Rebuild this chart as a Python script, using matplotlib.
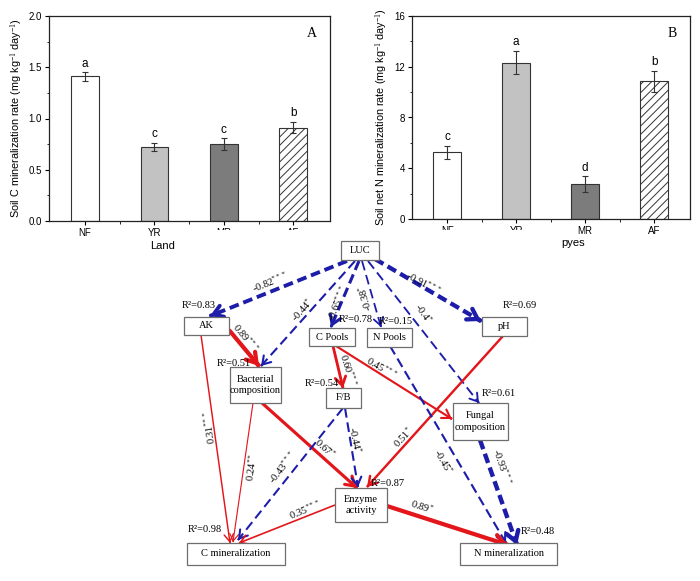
import matplotlib
matplotlib.use("Agg")
import matplotlib.pyplot as plt
from matplotlib.patches import Rectangle
from matplotlib.ticker import MultipleLocator, FormatStrFormatter
import numpy as np

# ---------------- data ----------------
land = ['NF', 'YR', 'MR', 'AF']
c_rate = [1.41, 0.72, 0.75, 0.91]
c_err = [0.04, 0.04, 0.055, 0.055]
c_letters = ['a', 'c', 'c', 'b']
n_rate = [5.26, 12.32, 2.76, 10.84]
n_err = [0.5, 0.92, 0.6, 0.86]
n_letters = ['c', 'a', 'd', 'b']

node_names = ['LUC', 'AK', 'C Pools', 'N Pools', 'pH', 'Bacterial\ncomposition', 'F/B',
              'Fungal\ncomposition', 'Enzyme\nactivity', 'C mineralization', 'N mineralization']
node_r2 = [None, 0.83, 0.78, 0.15, 0.69, 0.51, 0.54, 0.61, 0.87, 0.98, 0.48]

edge_from = ['LUC', 'LUC', 'LUC', 'LUC', 'LUC', 'LUC', 'AK', 'AK',
             'Bacterial\ncomposition', 'Bacterial\ncomposition', 'C Pools', 'C Pools', 'pH',
             'F/B', 'F/B', 'N Pools', 'Fungal\ncomposition', 'Enzyme\nactivity', 'Enzyme\nactivity']
edge_to = ['AK', 'Bacterial\ncomposition', 'C Pools', 'N Pools', 'pH', 'Fungal\ncomposition',
           'Bacterial\ncomposition', 'C mineralization', 'C mineralization', 'Enzyme\nactivity',
           'F/B', 'Fungal\ncomposition', 'Enzyme\nactivity', 'Enzyme\nactivity', 'C mineralization',
           'N mineralization', 'N mineralization', 'C mineralization', 'N mineralization']
edge_coef = [-0.82, -0.44, -0.65, -0.38, -0.91, -0.4, 0.89, 0.31, 0.24, 0.67, 0.60, 0.45,
             0.51, -0.44, -0.43, -0.45, -0.93, 0.35, 0.89]
edge_sig = ['***', '*', '***', '*', '***', '*', '***', '***', '**', '*', '***', '***',
            '*', '*', '***', '*', '***', '***', '*']

# ---------------- layout (pixel coordinates of the diagram) ----------------
node_box = {  # center x, center y, width, height
    'LUC': (360, 250.5, 38, 19),
    'AK': (206.5, 326, 45, 18),
    'C Pools': (332, 337, 46, 18),
    'N Pools': (389, 337, 45, 19),
    'pH': (504.5, 326.5, 45, 19),
    'Bacterial\ncomposition': (255.5, 385, 51, 36),
    'F/B': (343.5, 398, 35, 20),
    'Fungal\ncomposition': (480.5, 421.5, 55, 37),
    'Enzyme\nactivity': (361, 505, 52, 34),
    'C mineralization': (236, 554, 98, 22),
    'N mineralization': (508.5, 554, 97, 22),
}
r2_pos = {
    'AK': (182, 306), 'C Pools': (339, 319), 'N Pools': (379, 322), 'pH': (503, 305),
    'Bacterial\ncomposition': (217, 363), 'F/B': (305, 383), 'Fungal\ncomposition': (482, 393),
    'Enzyme\nactivity': (371, 483), 'C mineralization': (188, 530), 'N mineralization': (521, 531),
}
edge_geom = [  # start, end, label position, label rotation
    ((347, 261), (210, 316), (270, 282), 22),
    ((355, 261), (261, 366), (302, 310), 48),
    ((359, 261), (331, 327), (338, 303), 67),
    ((362, 261), (381, 327), (365, 298), 106),
    ((375, 259), (481, 321), (423, 283), -28),
    ((368, 261), (479, 403), (423, 313), -55),
    ((229, 330), (259, 366), (246, 338), -50),
    ((201, 335), (230, 543), (209, 427), 98),
    ((253, 403), (233, 542), (252, 467), 82),
    ((262, 403), (357, 488), (325, 448), -42),
    ((333, 346), (343, 388), (348, 370), -72),
    ((336, 346), (452, 419), (382, 368), -30),
    ((503, 336), (367, 487), (403, 437), 47),
    ((345, 408), (358, 487), (355, 440), -78),
    ((343, 408), (238, 540), (283, 467), 52),
    ((390, 346), (506, 543), (443, 462), -60),
    ((480, 440), (517, 545), (502, 467), -71),
    ((335, 505), (239, 543), (305, 510), 22),
    ((387, 506), (508, 545), (422, 507), -18),
]

RED = '#e3161b'
BLUE = '#1d1daa'
SANS = ['Liberation Sans', 'DejaVu Sans']
SERIF = ['Liberation Serif', 'DejaVu Serif']

plt.rcParams['font.family'] = SANS
plt.rcParams['mathtext.fontset'] = 'custom'
plt.rcParams['mathtext.rm'] = 'Liberation Serif'
plt.rcParams['mathtext.it'] = 'Liberation Serif:italic'
plt.rcParams['lines.scale_dashes'] = False
plt.rcParams['hatch.color'] = '#6a6a6a'
plt.rcParams['hatch.linewidth'] = 0.7

fig = plt.figure(figsize=(7, 5.81), dpi=100)
W, H = 700, 581

faces = ['white', '#c2c2c2', '#7c7c7c', 'white']
hatches = [None, None, None, '////']


def bar_panel(ax, vals, errs, letters, ylim, step, minor, ylabel, tag, xlim):
    x = np.arange(len(land))
    for i in range(len(land)):
        ax.bar(x[i], vals[i], width=0.4, color=faces[i], edgecolor='#333333',
               linewidth=0.8, hatch=hatches[i], zorder=2)
    ax.errorbar(x, vals, yerr=errs, fmt='none', ecolor='#333333', elinewidth=0.8,
                capsize=2.5, capthick=0.8, zorder=3)
    for i in range(len(land)):
        ax.annotate(letters[i], (x[i], vals[i] + errs[i]), xytext=(0, 2),
                    textcoords='offset points', ha='center', va='bottom', fontsize=8.5)
    ax.set_xlim(*xlim)
    ax.set_ylim(*ylim)
    ax.set_xticks(x)
    ax.set_xticklabels(land, fontsize=7)
    ax.set_xticks([0.5, 1.5, 2.5], minor=True)
    ax.yaxis.set_major_locator(MultipleLocator(step))
    ax.yaxis.set_minor_locator(MultipleLocator(minor))
    ax.tick_params(axis='both', which='major', direction='out', length=3, width=0.8,
                   labelsize=7, pad=2)
    ax.tick_params(axis='both', which='minor', direction='out', length=1.8, width=0.6)
    ax.set_ylabel(ylabel, fontsize=7.8, labelpad=3)
    for s in ax.spines.values():
        s.set_linewidth(0.9)
        s.set_color('#222222')
    ax.text(0.935, 0.915, tag, transform=ax.transAxes, family=SERIF, fontsize=10,
            ha='center', va='center')


ax1 = fig.add_axes([49 / W, 1 - 221 / H, 281 / W, 205 / H])
bar_panel(ax1, c_rate, c_err, c_letters, (0, 2.0), 0.5, 0.25,
          'Soil C mineralization rate (mg kg$^{-1}$ day$^{-1}$)', 'A', (-0.52, 3.53))
ax1.yaxis.set_major_formatter(FormatStrFormatter('%.1f'))

ax2 = fig.add_axes([412 / W, 1 - 219 / H, 278 / W, 203 / H])
bar_panel(ax2, n_rate, n_err, n_letters, (0, 16), 4, 2,
          'Soil net N mineralization rate (mg kg$^{-1}$ day$^{-1}$)', 'B', (-0.51, 3.52))

fig.text(163 / W, 1 - 246 / H, 'Land', ha='center', va='center', fontsize=8)
fig.text(573 / W, 1 - 243 / H, 'pyes', ha='center', va='center', fontsize=8)

# ---------------- path diagram ----------------
ax3 = fig.add_axes([0, 0, 1, 1])
ax3.set_zorder(10)
ax3.set_xlim(0, W)
ax3.set_ylim(H, 0)
ax3.axis('off')
ax3.patch.set_visible(False)
ax3.add_patch(Rectangle((205, 229.5), 355, 352, facecolor='white', edgecolor='none', zorder=0))

for name, r2 in zip(node_names, node_r2):
    cx, cy, w, h = node_box[name]
    ax3.add_patch(Rectangle((cx - w / 2, cy - h / 2), w, h, facecolor='white',
                            edgecolor='#6e6e6e', linewidth=0.9, zorder=3))
    ax3.text(cx, cy, name, ha='center', va='center', family=SERIF, fontsize=7.5,
             linespacing=1.35, zorder=4)
    if r2 is not None:
        px, py = r2_pos[name]
        ax3.text(px, py, 'R\u00b2=%.2f' % r2, ha='left', va='center', family=SERIF,
                 fontsize=7.5, zorder=4)

for coef, sig, geom in zip(edge_coef, edge_sig, edge_geom):
    (x0, y0), (x1, y1), (lx, ly), rot = geom
    col = RED if coef > 0 else BLUE
    lw = 3.4 * abs(coef)
    if coef > 0:
        ax3.plot([x0, x1], [y0, y1], color=col, lw=lw, solid_capstyle='butt', zorder=2)
    else:
        ax3.plot([x0, x1], [y0, y1], color=col, lw=lw, dashes=(7, 3.5),
                 dash_capstyle='butt', zorder=2)
    d = np.hypot(x1 - x0, y1 - y0)
    ux, uy = (x1 - x0) / d, (y1 - y0) / d
    ms = 8 + 5 * abs(coef)
    ax3.annotate('', xy=(x1, y1), xytext=(x1 - ux * 1.0, y1 - uy * 1.0),
                 arrowprops=dict(arrowstyle='->,head_length=0.55,head_width=0.35',
                                 color=col, lw=lw, shrinkA=0, shrinkB=0,
                                 mutation_scale=ms), zorder=2)
    label = '-0.4' if abs(coef) == 0.4 else '%.2f' % coef
    ax3.text(lx, ly, label + '$^{' + sig + '}$', rotation=rot, rotation_mode='anchor',
             ha='center', va='center', family=SERIF, fontsize=7.5, zorder=4)

fig.savefig('out.png', dpi=100)
